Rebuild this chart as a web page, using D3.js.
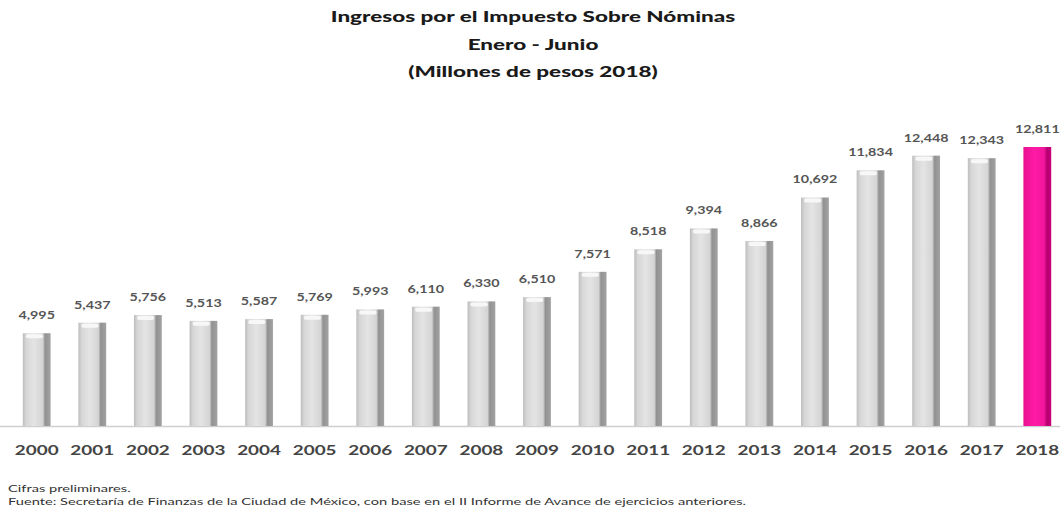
<!DOCTYPE html>
<html>
<head>
<meta charset="utf-8">
<script src="https://cdn.jsdelivr.net/npm/d3@7"></script>
<style>
  body { margin: 0; background: #fff; }
  svg { display: block; font-family: "Lato", "Open Sans", sans-serif; }
</style>
</head>
<body>
<svg id="chart"></svg>
<script>
// datos: ingresos enero-junio, millones de pesos 2018
const years = ["2000", "2001", "2002", "2003", "2004", "2005", "2006", "2007", "2008", "2009",
  "2010", "2011", "2012", "2013", "2014", "2015", "2016", "2017", "2018"];
const values = [4995, 5437, 5756, 5513, 5587, 5769, 5993, 6110, 6330, 6510,
  7571, 8518, 9394, 8866, 10692, 11834, 12448, 12343, 12811];
const titleLines = ["Ingresos por el Impuesto  Sobre Nóminas", "Enero - Junio", "(Millones de pesos 2018)"];
const notes = ["Cifras preliminares.",
  "Fuente: Secretaría de Finanzas de la Ciudad de México, con base en el II Informe de Avance de ejercicios anteriores."];

const width = 1060, height = 512;
const baseY = 426;

const svg = d3.select("#chart").attr("width", width).attr("height", height);

const x = d3.scaleBand().domain(years).range([-5, 1079]).padding(0.5);
const y = d3.scaleLinear().domain([1100, 12811]).range([baseY, 147]);

// la imagen original viene estirada a lo ancho, asi que el texto tambien
function stretched(sel, sx) {
  return sel.append("text").attr("transform", `scale(${sx},1)`);
}

// gradientes tipo cilindro
const defs = svg.append("defs");
function grad(id, stops) {
  const g = defs.append("linearGradient").attr("id", id).attr("x1", "0").attr("x2", "1").attr("y1", "0").attr("y2", "0");
  stops.forEach(s => g.append("stop").attr("offset", s[0]).attr("stop-color", s[1]));
}
grad("gris", [[0, "#bdbdbd"], [0.12, "#d6d6d6"], [0.4, "#e4e4e4"], [0.72, "#d4d4d4"], [0.8, "#929292"], [1, "#a2a2a2"]]);
grad("rosa", [[0, "#e8108f"], [0.4, "#ff1aa6"], [0.75, "#f0159c"], [0.85, "#b5006f"], [1, "#c8007c"]]);

// titulo
svg.append("g").selectAll("g")
  .data(titleLines)
  .join("g")
  .attr("transform", (d, i) => `translate(533,${22 + i * 27.5})`)
  .call(g => stretched(g, 1.55)
    .attr("text-anchor", "middle")
    .attr("font-size", 14.5)
    .attr("font-weight", 900)
    .attr("fill", "#1a1a1a")
    .text(d => d));

// linea base
svg.append("line")
  .attr("x1", 0).attr("x2", width)
  .attr("y1", baseY + 0.5).attr("y2", baseY + 0.5)
  .attr("stroke", "#cfcfcf").attr("stroke-width", 1.5);

const bars = svg.append("g").selectAll("g")
  .data(years)
  .join("g");

bars.append("rect")
  .attr("x", d => x(d))
  .attr("y", (d, i) => y(values[i]))
  .attr("width", x.bandwidth())
  .attr("height", (d, i) => baseY - y(values[i]))
  .attr("fill", (d, i) => i === years.length - 1 ? "url(#rosa)" : "url(#gris)");

// tapa superior clara
bars.filter((d, i) => i < years.length - 1)
  .append("rect")
  .attr("x", d => x(d) + 3)
  .attr("y", (d, i) => y(values[i]) + 1)
  .attr("width", x.bandwidth() * 0.62)
  .attr("height", 4)
  .attr("rx", 2)
  .attr("fill", "#f7f7f7");

// etiquetas de valor
bars.append("g")
  .attr("transform", (d, i) => `translate(${x(d) + x.bandwidth() / 2},${y(values[i]) - 14})`)
  .call(g => stretched(g, 1.3)
    .attr("text-anchor", "middle")
    .attr("font-size", 11)
    .attr("font-weight", 700)
    .attr("fill", "#555")
    .text((d, i) => d3.format(",")(values[i])));

// eje x
svg.append("g").selectAll("g")
  .data(years)
  .join("g")
  .attr("transform", d => `translate(${x(d) + x.bandwidth() / 2},455)`)
  .call(g => stretched(g, 1.35)
    .attr("text-anchor", "middle")
    .attr("font-size", 14)
    .attr("font-weight", 700)
    .attr("fill", "#444")
    .text(d => d));

// notas
svg.append("g").selectAll("g")
  .data(notes)
  .join("g")
  .attr("transform", (d, i) => `translate(8,${492 + i * 13})`)
  .call(g => stretched(g, 1.63)
    .attr("font-size", 9)
    .attr("fill", "#333")
    .text(d => d));
</script>
</body>
</html>
